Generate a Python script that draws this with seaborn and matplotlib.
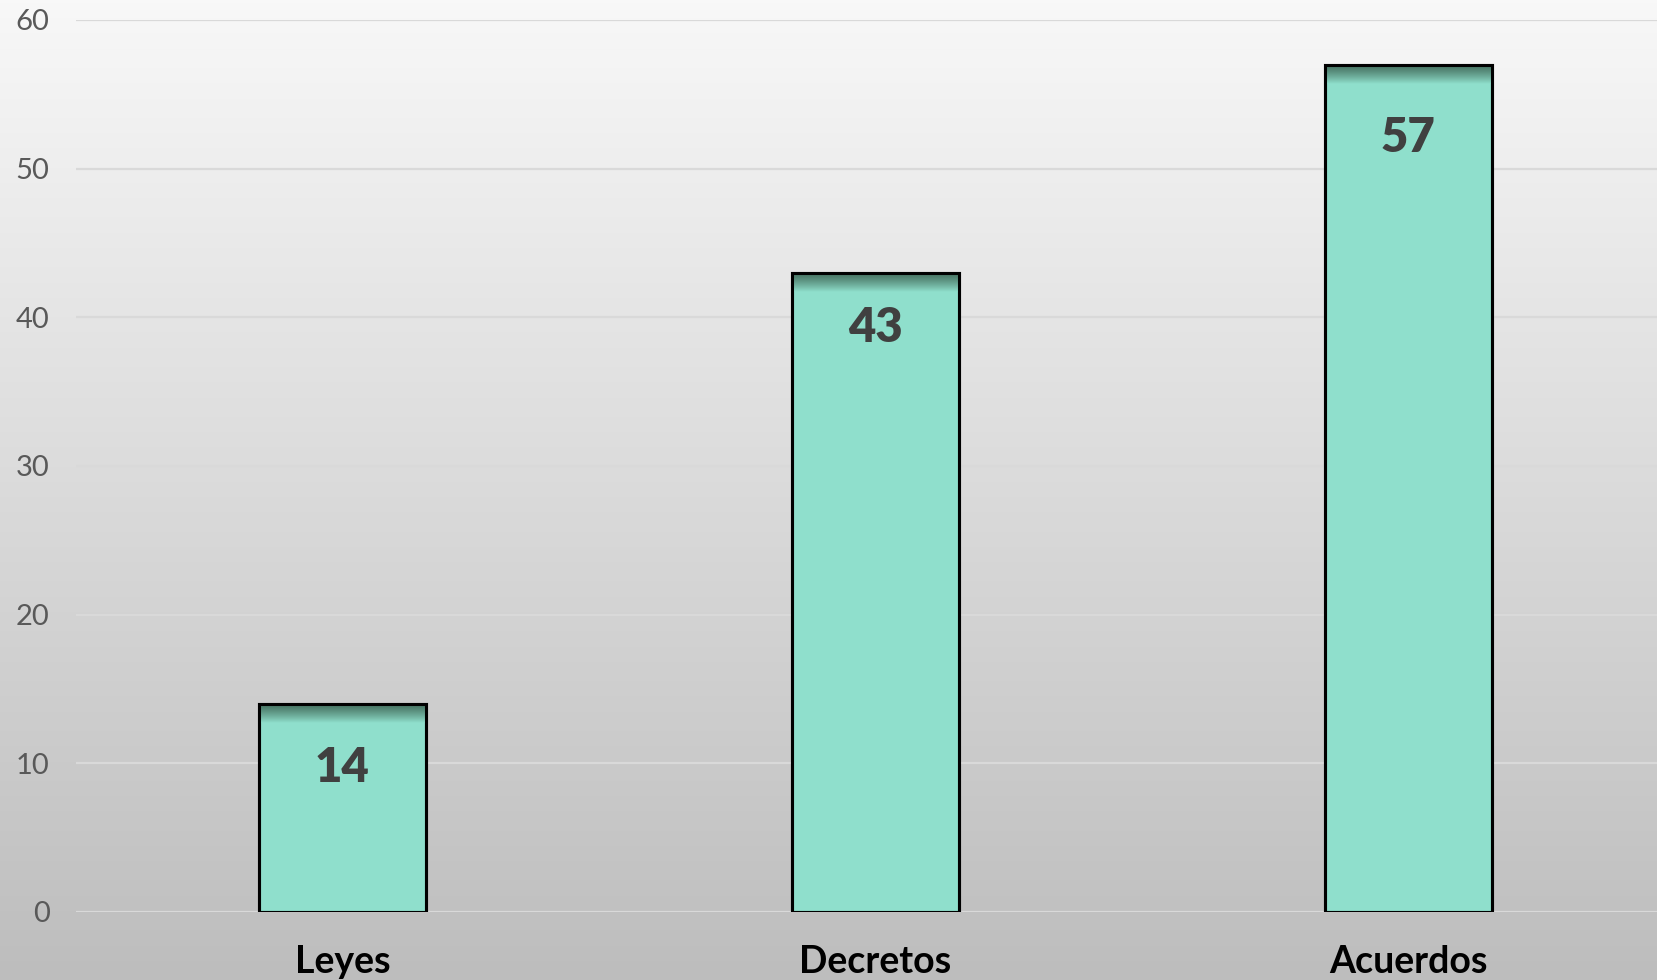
import numpy as np
import pandas as pd
import seaborn as sns
import matplotlib.pyplot as plt
from matplotlib.colors import LinearSegmentedColormap, to_rgba

# Data
categories = ['Leyes', 'Decretos', 'Acuerdos']
values = [14, 43, 57]
y_ticks = [0, 10, 20, 30, 40, 50, 60]

# styling: how far each value label sits below its bar top (points)
label_drop_pt = [46, 40, 53]

bar_color = '#8fdfcc'
shadow_color = '#45705f'

sns.set_theme(style='white')
plt.rcParams['font.family'] = ['Lato', 'DejaVu Sans']

df = pd.DataFrame({'categoria': categories, 'cantidad': values})

fig = plt.figure(figsize=(16.57, 9.8), dpi=100)

# grey vertical gradient background over the whole figure
bg = fig.add_axes([0, 0, 1, 1], zorder=-1)
grad = np.linspace(0, 1, 256).reshape(-1, 1)
bg_cmap = LinearSegmentedColormap.from_list('bg', ['#f8f8f8', '#bdbdbd'])
bg.imshow(grad, aspect='auto', cmap=bg_cmap, extent=(0, 1, 0, 1), origin='upper')
bg.set_axis_off()

ax = fig.add_axes([0.0459, 0.0694, 0.9541, 0.9102])
ax.patch.set_alpha(0)

sns.barplot(data=df, x='categoria', y='cantidad', color=bar_color, saturation=1,
            width=0.313, edgecolor='black', linewidth=2.2, ax=ax, zorder=3)

ax.set_xlim(-0.5, 2.467)
ax.set_ylim(0, 60)
ax.set_yticks(y_ticks)
ax.yaxis.grid(True, color='#d9d9d9', linewidth=1.6, zorder=0)
ax.xaxis.grid(False)
for s in ax.spines.values():
    s.set_visible(False)
ax.set_xlabel('')
ax.set_ylabel('')
ax.tick_params(axis='y', length=0, pad=19, labelsize=21, labelcolor='#595959')
ax.tick_params(axis='x', length=0, pad=24, labelsize=27)
for lbl in ax.get_xticklabels():
    lbl.set_fontweight('bold')
    lbl.set_color('black')

# dark shadow at the top of each bar + value label
rgba_top = to_rgba(shadow_color)
rgba_bot = to_rgba(bar_color)
for p, v, drop in zip(ax.patches, values, label_drop_pt):
    x0 = p.get_x()
    w = p.get_width()
    h = p.get_height()
    n = 60
    img = np.zeros((n, 1, 4))
    t = np.linspace(0, 1, n) ** 1.3
    for i in range(4):
        img[:, 0, i] = rgba_top[i] * (1 - t) + rgba_bot[i] * t
    ax.imshow(img, aspect='auto', extent=(x0, x0 + w, h - 1.3, h),
              origin='upper', zorder=3.5, interpolation='bilinear')
    ax.annotate(f'{v}', (x0 + w / 2, h), xytext=(0, -drop), textcoords='offset points',
                ha='center', va='center', fontsize=34, fontweight='heavy',
                color='#404040', zorder=5)
    # redraw outline above the shadow
    outline = plt.Rectangle((x0, 0), w, h, fill=False, edgecolor='black',
                            linewidth=2.2, zorder=4)
    ax.add_patch(outline)

ax.set_xlim(-0.5, 2.467)
ax.set_ylim(0, 60)

fig.savefig('out.png', dpi=100)
